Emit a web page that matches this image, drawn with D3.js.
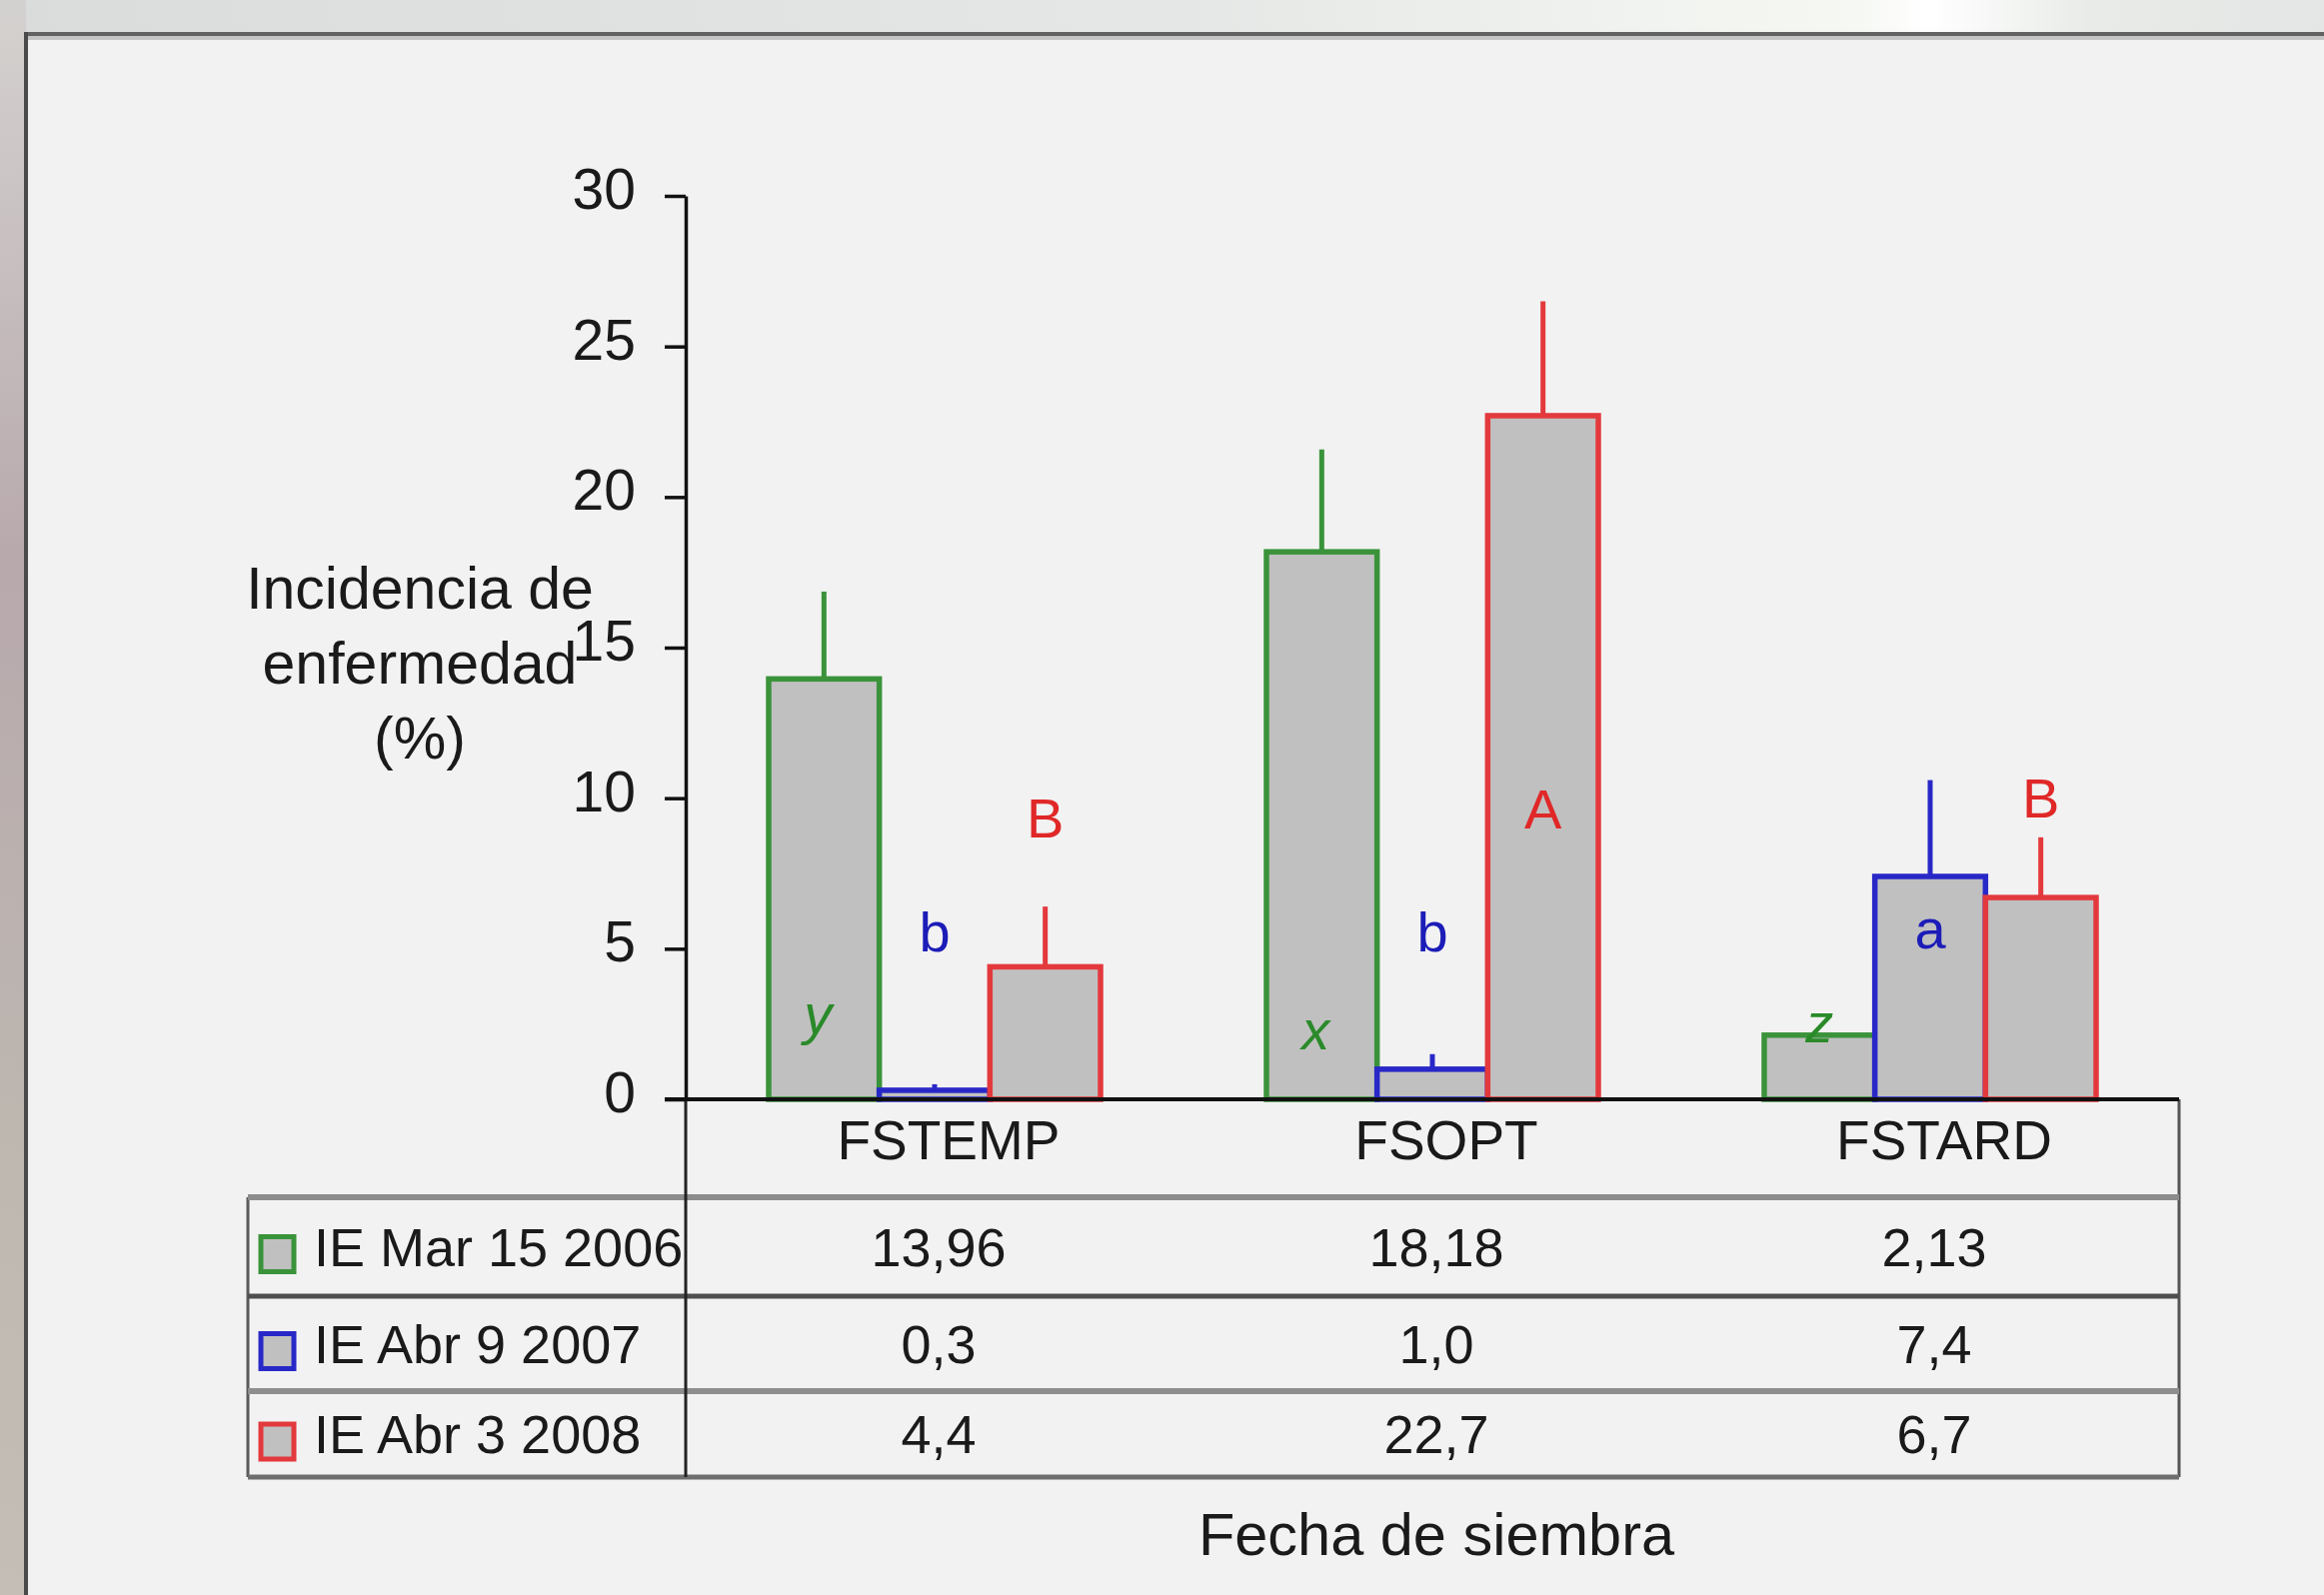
<!DOCTYPE html>
<html>
<head>
<meta charset="utf-8">
<script src="https://d3js.org/d3.v7.min.js"></script>
<style>
  html, body { margin: 0; padding: 0; background: #f2f2f2; overflow: hidden; }
  text { font-family: "Liberation Sans", Arial, sans-serif; }
</style>
</head>
<body>
<div id="chart"></div>
<script>
// categories / series
var categories = ["FSTEMP", "FSOPT", "FSTARD"];
var seriesNames = ["IE Mar 15 2006", "IE Abr 9 2007", "IE Abr 3 2008"];
var seriesColors = ["#3a933a", "#2828c8", "#e3393d"];
var letterColors = ["#2a8a2a", "#1c1cb8", "#e02828"];

// bar heights (incidencia %)
var valuesMar2006 = [13.96, 18.18, 2.13];
var valuesAbr2007 = [0.3, 1.0, 7.4];
var valuesAbr2008 = [4.4, 22.7, 6.7];

// upper error bars
var errMar2006 = [2.9, 3.4, 0];
var errAbr2007 = [0.2, 0.5, 3.2];
var errAbr2008 = [2.0, 3.8, 2.0];

// table texts
var tableMar2006 = ["13,96", "18,18", "2,13"];
var tableAbr2007 = ["0,3", "1,0", "7,4"];
var tableAbr2008 = ["4,4", "22,7", "6,7"];

// significance letters and their baseline (in % units)
var lettersMar2006 = ["y", "x", "z"];
var lettersAbr2007 = ["b", "b", "a"];
var lettersAbr2008 = ["B", "A", "B"];
var letterYMar2006 = [2.2, 1.65, 1.9];
var letterYAbr2007 = [4.9, 4.9, 5.0];
var letterYAbr2008 = [8.7, 9.0, 9.35];

var yTicks = [0, 5, 10, 15, 20, 25, 30];

var values = [valuesMar2006, valuesAbr2007, valuesAbr2008];
var errors = [errMar2006, errAbr2007, errAbr2008];
var tableRows = [tableMar2006, tableAbr2007, tableAbr2008];
var letters = [lettersMar2006, lettersAbr2007, lettersAbr2008];
var letterY = [letterYMar2006, letterYAbr2007, letterYAbr2008];

var W = 2325, H = 1596;
var plotLeft = 686, plotRight = 2180, plotTop = 196, plotBottom = 1100;
var tableLeft = 248;
var rowEdges = [1100, 1198, 1297, 1392, 1478];

var svg = d3.select("#chart")
    .append("svg")
    .attr("width", W)
    .attr("height", H);

// ---- background frame ----
var defs = svg.append("defs");
var gTop = defs.append("linearGradient").attr("id", "topg").attr("x1", 0).attr("x2", 1).attr("y1", 0).attr("y2", 0);
gTop.append("stop").attr("offset", "0").attr("stop-color", "#d9dcdb");
gTop.append("stop").attr("offset", "0.5").attr("stop-color", "#e4e7e5");
gTop.append("stop").attr("offset", "0.8").attr("stop-color", "#f6f8f4");
gTop.append("stop").attr("offset", "0.83").attr("stop-color", "#ffffff");
gTop.append("stop").attr("offset", "0.9").attr("stop-color", "#e8ebe8");
gTop.append("stop").attr("offset", "1").attr("stop-color", "#e3e6e4");
var gLeft = defs.append("linearGradient").attr("id", "leftg").attr("x1", 0).attr("x2", 0).attr("y1", 0).attr("y2", 1);
gLeft.append("stop").attr("offset", "0").attr("stop-color", "#d4d2d0");
gLeft.append("stop").attr("offset", "0.35").attr("stop-color", "#b8a9ad");
gLeft.append("stop").attr("offset", "0.7").attr("stop-color", "#bdb7b0");
gLeft.append("stop").attr("offset", "1").attr("stop-color", "#c4beb6");

svg.append("rect").attr("x", 0).attr("y", 0).attr("width", W).attr("height", 34).attr("fill", "url(#topg)");
svg.append("rect").attr("x", 0).attr("y", 0).attr("width", 26).attr("height", H).attr("fill", "url(#leftg)");
svg.append("rect").attr("x", 26).attr("y", 34).attr("width", W - 26).attr("height", H - 34).attr("fill", "#f2f2f2");
svg.append("rect").attr("x", 26).attr("y", 36).attr("width", W - 26).attr("height", 4).attr("fill", "#c4c4c4");
svg.append("rect").attr("x", 26).attr("y", 32).attr("width", W - 26).attr("height", 4).attr("fill", "#626262");
svg.append("rect").attr("x", 24).attr("y", 32).attr("width", 4).attr("height", H - 32).attr("fill", "#4a4a4a");

// ---- scales ----
var x = d3.scaleBand()
    .domain(categories)
    .range([plotLeft, plotRight]);

var xs = d3.scaleBand()
    .domain(d3.range(seriesNames.length))
    .range([0, x.bandwidth()])
    .paddingInner(0)
    .paddingOuter(0.75);

var y = d3.scaleLinear()
    .domain([0, 30])
    .range([plotBottom, plotTop]);

// ---- bars ----
var bars = svg.append("g");
values.forEach(function(vals, i) {
    bars.selectAll(".bar" + i)
        .data(vals)
        .enter()
        .append("rect")
        .attr("x", function(d, j) { return x(categories[j]) + xs(i); })
        .attr("width", xs.bandwidth())
        .attr("y", function(d) { return y(d); })
        .attr("height", function(d) { return y(0) - y(d); })
        .attr("fill", "#c0c0c0")
        .attr("stroke", seriesColors[i])
        .attr("stroke-width", 5.5);
});

// error bars
values.forEach(function(vals, i) {
    bars.selectAll(".err" + i)
        .data(vals)
        .enter()
        .filter(function(d, j) { return errors[i][j] > 0; })
        .append("line")
        .attr("x1", function(d, j) { return x(categories[j]) + xs(i) + xs.bandwidth() / 2; })
        .attr("x2", function(d, j) { return x(categories[j]) + xs(i) + xs.bandwidth() / 2; })
        .attr("y1", function(d) { return y(d); })
        .attr("y2", function(d, j) { return y(d + errors[i][j]); })
        .attr("stroke", seriesColors[i])
        .attr("stroke-width", 5);
});

// letters
letters.forEach(function(ls, i) {
    svg.append("g").selectAll("text")
        .data(ls)
        .enter()
        .append("text")
        .attr("x", function(d, j) { return x(categories[j]) + xs(i) + xs.bandwidth() / 2 - (i === 0 && j < 2 ? 6 : 0); })
        .attr("y", function(d, j) { return y(letterY[i][j]); })
        .attr("text-anchor", "middle")
        .attr("font-size", 56)
        .attr("font-style", i === 0 ? "italic" : "normal")
        .attr("fill", letterColors[i])
        .text(function(d) { return d; });
});

// ---- y axis ----
var yAxis = svg.append("g")
    .attr("transform", "translate(" + plotLeft + ",0)")
    .call(d3.axisLeft(y).tickValues(yTicks).tickSize(21).tickSizeOuter(0).tickPadding(29));
yAxis.select(".domain").attr("stroke", "#111").attr("stroke-width", 3.5);
yAxis.selectAll(".tick line").attr("stroke", "#111").attr("stroke-width", 3.5);
yAxis.selectAll(".tick text")
    .attr("font-size", 57)
    .attr("font-family", "Liberation Sans, Arial, sans-serif")
    .attr("fill", "#1a1a1a")
    .attr("dy", "0.22em");

// y title
var yTitle = ["Incidencia de", "enfermedad", "(%)"];
svg.append("g").selectAll("text")
    .data(yTitle)
    .enter()
    .append("text")
    .attr("x", 420)
    .attr("y", function(d, i) { return 609 + i * 75; })
    .attr("text-anchor", "middle")
    .attr("font-size", 59)
    .attr("fill", "#1a1a1a")
    .text(function(d) { return d; });

// ---- data table ----
var table = svg.append("g");
var rowMid = function(r) { return (rowEdges[r] + rowEdges[r + 1]) / 2; };

table.append("line")
    .attr("x1", plotRight).attr("x2", plotRight)
    .attr("y1", rowEdges[0]).attr("y2", rowEdges[4])
    .attr("stroke", "#555").attr("stroke-width", 3);
table.append("line")
    .attr("x1", tableLeft).attr("x2", tableLeft)
    .attr("y1", rowEdges[1]).attr("y2", rowEdges[4])
    .attr("stroke", "#5a5a5a").attr("stroke-width", 3);
var rowLineStyle = [["#8c8c8c", 6], ["#4e4e4e", 5], ["#8e8e8e", 6], ["#6e6e6e", 5]];
rowLineStyle.forEach(function(s, k) {
    table.append("line")
        .attr("x1", tableLeft).attr("x2", plotRight)
        .attr("y1", rowEdges[k + 1]).attr("y2", rowEdges[k + 1])
        .attr("stroke", s[0]).attr("stroke-width", s[1]);
});
table.append("line")
    .attr("x1", plotLeft).attr("x2", plotLeft)
    .attr("y1", plotBottom).attr("y2", rowEdges[4])
    .attr("stroke", "#222").attr("stroke-width", 3);

// header row
table.selectAll(".hdr")
    .data(categories)
    .enter()
    .append("text")
    .attr("x", function(d) { return x(d) + x.bandwidth() / 2 + 14; })
    .attr("y", 1160)
    .attr("text-anchor", "middle")
    .attr("font-size", 55)
    .attr("fill", "#1a1a1a")
    .text(function(d) { return d; });

// value rows + legend
tableRows.forEach(function(row, i) {
    var base = rowMid(i + 1) + 19;
    table.append("g").selectAll("text")
        .data(row)
        .enter()
        .append("text")
        .attr("x", function(d, j) { return x(categories[j]) + x.bandwidth() / 2 + 4; })
        .attr("y", base)
        .attr("text-anchor", "middle")
        .attr("font-size", 54)
        .attr("fill", "#1a1a1a")
        .text(function(d) { return d; });
    table.append("rect")
        .attr("x", 261)
        .attr("y", base - 29)
        .attr("width", 33)
        .attr("height", 35)
        .attr("fill", "#c0c0c0")
        .attr("stroke", seriesColors[i])
        .attr("stroke-width", 5);
    table.append("text")
        .attr("x", 314)
        .attr("y", base)
        .attr("font-size", 54)
        .attr("fill", "#1a1a1a")
        .text(seriesNames[i]);
});

// x baseline
svg.append("line")
    .attr("x1", plotLeft - 21).attr("x2", plotRight)
    .attr("y1", y(0)).attr("y2", y(0))
    .attr("stroke", "#111").attr("stroke-width", 4);

// x title
svg.append("text")
    .attr("x", (plotLeft + plotRight) / 2 + 4)
    .attr("y", 1556)
    .attr("text-anchor", "middle")
    .attr("font-size", 59.5)
    .attr("fill", "#1a1a1a")
    .text("Fecha de siembra");
</script>
</body>
</html>
